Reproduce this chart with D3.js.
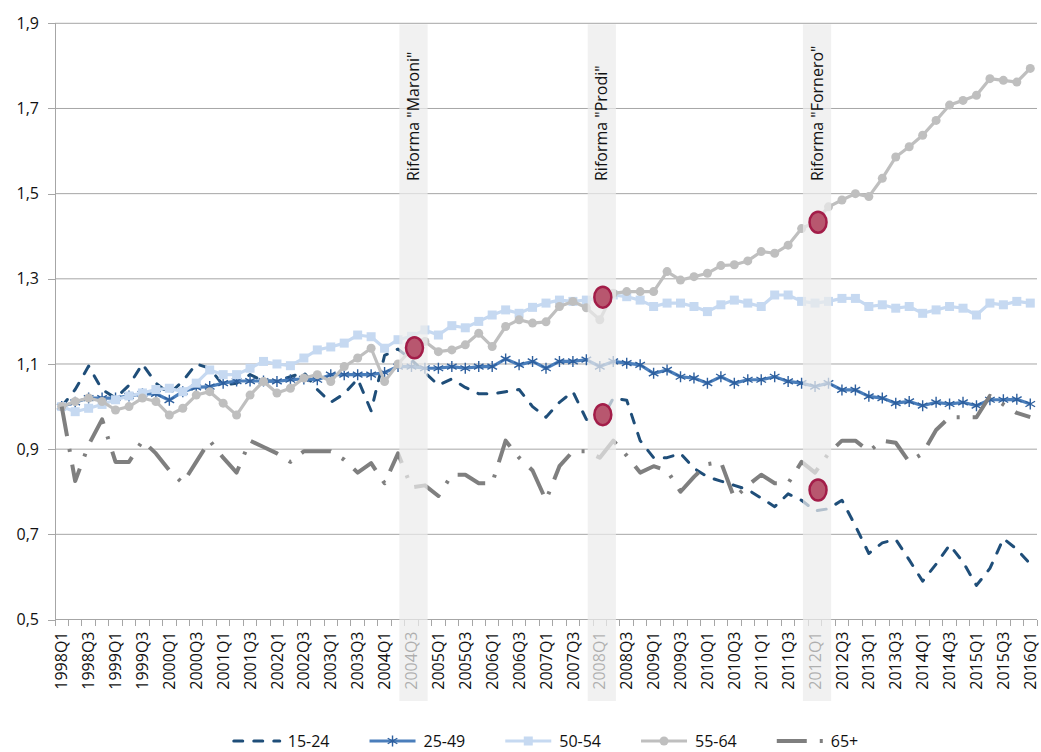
<!DOCTYPE html>
<html>
<head>
  <meta http-equiv="Content-Type" content="text/html; charset=UTF-8">
  <style>
    body { margin: 0; background: #fff; }
    text { font-family: "Open Sans", sans-serif; fill: #111; }
    .grid line { stroke: #a6a6a6; stroke-width: 1; }
    .axis path, .axis line { stroke: #a6a6a6; shape-rendering: crispEdges; }
    .axis text { font-size: 16px; }
    .xlabel { font-size: 15.5px; }
    .legend text { font-size: 16px; }
    .band { fill: #ececec; opacity: 0.72; }
    .reform { font-size: 16px; }
    .hit { fill: #b8576f; stroke: #a31d49; stroke-width: 2.5; }
  </style>
</head>
<body>
  <svg width="1041" height="752"></svg>
  <script src="https://d3js.org/d3.v7.min.js"></script>
  <script>
    // quarters 1998Q1 .. 2016Q1
    var firstYear = 1998, lastYear = 2016, lastQuarter = 1;
    var quarters = [];
    for (var yr = firstYear; yr <= lastYear; yr++)
      for (var q = 1; q <= 4; q++)
        if (yr < lastYear || q <= lastQuarter) quarters.push(yr + "Q" + q);

    var yTicks = [0.5, 0.7, 0.9, 1.1, 1.3, 1.5, 1.7, 1.9];
    var seriesNames = ["15-24", "25-49", "50-54", "55-64", "65+"];

    var v1524 = [1.00, 1.04, 1.095, 1.04, 1.02, 1.05, 1.10, 1.055, 1.03, 1.06, 1.10, 1.09, 1.05,
                 1.055, 1.075, 1.06, 1.06, 1.07, 1.08, 1.04, 1.01, 1.03, 1.065, 0.99, 1.12, 1.135,
                 1.11, 1.08, 1.05, 1.065, 1.045, 1.03, 1.03, 1.035, 1.04, 1.00, 0.975, 1.01, 1.035,
                 0.97, 0.96, 1.02, 1.015, 0.92, 0.88, 0.88, 0.89, 0.855, 0.835, 0.825, 0.815, 0.805,
                 0.785, 0.765, 0.795, 0.78, 0.755, 0.76, 0.78, 0.72, 0.655, 0.68, 0.688, 0.64, 0.59,
                 0.63, 0.675, 0.635, 0.58, 0.62, 0.69, 0.665, 0.63];
    var v2549 = [1.00, 1.01, 1.02, 1.02, 1.02, 1.025, 1.03, 1.03, 1.015, 1.035, 1.045, 1.047, 1.055,
                 1.06, 1.06, 1.06, 1.059, 1.063, 1.065, 1.063, 1.075, 1.075, 1.075, 1.075, 1.08, 1.094,
                 1.094, 1.09, 1.09, 1.094, 1.09, 1.094, 1.094, 1.112, 1.098, 1.106, 1.09, 1.106, 1.106,
                 1.11, 1.094, 1.106, 1.102, 1.098, 1.078, 1.086, 1.07, 1.067, 1.055, 1.07, 1.055, 1.063,
                 1.063, 1.07, 1.059, 1.055, 1.047, 1.055, 1.039, 1.039, 1.024, 1.02, 1.008, 1.012, 1.002,
                 1.01, 1.006, 1.01, 1.002, 1.016, 1.016, 1.017, 1.006];
    var v5054 = [1.00, 0.988, 0.996, 1.005, 1.016, 1.025, 1.032, 1.04, 1.043, 1.035, 1.055, 1.086, 1.075,
                 1.075, 1.09, 1.106, 1.10, 1.096, 1.114, 1.133, 1.14, 1.149, 1.168, 1.164, 1.137, 1.157,
                 1.165, 1.18, 1.168, 1.19, 1.185, 1.20, 1.215, 1.227, 1.219, 1.233, 1.243, 1.25, 1.247,
                 1.25, 1.255, 1.262, 1.258, 1.25, 1.235, 1.243, 1.243, 1.235, 1.223, 1.239, 1.25, 1.243,
                 1.235, 1.262, 1.262, 1.247, 1.243, 1.247, 1.254, 1.254, 1.235, 1.239, 1.231, 1.235, 1.219,
                 1.227, 1.235, 1.231, 1.215, 1.243, 1.239, 1.247, 1.243];
    var v5564 = [1.00, 1.012, 1.02, 1.012, 0.992, 1.00, 1.02, 1.012, 0.98, 0.996, 1.027, 1.035, 1.008,
                 0.98, 1.027, 1.059, 1.032, 1.043, 1.067, 1.075, 1.059, 1.094, 1.114, 1.137, 1.059, 1.10,
                 1.135, 1.153, 1.129, 1.133, 1.145, 1.172, 1.141, 1.188, 1.204, 1.196, 1.199, 1.235, 1.247,
                 1.232, 1.204, 1.266, 1.27, 1.27, 1.27, 1.317, 1.297, 1.305, 1.313, 1.331, 1.333, 1.342,
                 1.364, 1.36, 1.379, 1.418, 1.434, 1.469, 1.485, 1.50, 1.493, 1.536, 1.586, 1.61, 1.637,
                 1.672, 1.708, 1.719, 1.731, 1.77, 1.766, 1.762, 1.794];
    var v65 = [1.00, 0.825, 0.91, 0.97, 0.87, 0.87, 0.92, 0.89, 0.85, 0.82, 0.87, 0.92, 0.88,
               0.845, 0.92, 0.905, 0.89, 0.87, 0.895, 0.895, 0.895, 0.875, 0.845, 0.867, 0.82, 0.89,
               0.81, 0.815, 0.79, 0.84, 0.84, 0.82, 0.82, 0.92, 0.88, 0.85, 0.78, 0.86, 0.895,
               0.895, 0.88, 0.92, 0.885, 0.845, 0.86, 0.85, 0.80, 0.835, 0.865, 0.87, 0.785, 0.815,
               0.84, 0.82, 0.82, 0.87, 0.845, 0.89, 0.92, 0.92, 0.895, 0.92, 0.915, 0.87, 0.89,
               0.945, 0.975, 0.975, 0.975, 1.025, 1.005, 0.985, 0.975];

    var reformQuarters = ["2004Q3", "2008Q1", "2012Q1"];
    var reformLabels = ['Riforma "Maroni"', 'Riforma "Prodi"', 'Riforma "Fornero"'];
    var hitQuarters = ["2004Q3", "2008Q1", "2008Q1", "2012Q1", "2012Q1"];
    var hitValues = [1.138, 1.257, 0.981, 1.433, 0.804];

    var seriesValues = [v1524, v2549, v5054, v5564, v65];
    var styles = [
      {color: "#1f4e79", width: 3, dash: "9,11", cap: "round", marker: null},
      {color: "#4a7ebb", width: 3.2, dash: null, cap: "butt", marker: "star"},
      {color: "#c6d9f1", width: 3.2, dash: null, cap: "butt", marker: "square"},
      {color: "#bfbfbf", width: 3.2, dash: null, cap: "butt", marker: "circle"},
      {color: "#7f7f7f", width: 4, dash: "30,13,3,13", cap: "butt", marker: null}
    ];

    var svg = d3.select("svg"),
        plot = {left: 55, right: 1037, top: 23.3, bottom: 619.5};

    var x = d3.scaleBand().domain(quarters).range([plot.left, plot.right]).paddingInner(0).paddingOuter(0),
        y = d3.scaleLinear().domain([0.5, 1.9]).range([plot.bottom, plot.top]);
    function xc(q) { return x(q) + x.bandwidth() / 2; }

    // gridlines
    svg.append("g").attr("class", "grid")
      .selectAll("line").data(yTicks.slice(1)).enter().append("line")
        .attr("x1", plot.left).attr("x2", plot.right)
        .attr("y1", function(d) { return y(d); })
        .attr("y2", function(d) { return y(d); });

    var yAxis = d3.axisLeft(y).tickValues(yTicks).tickSize(7).tickPadding(9)
        .tickFormat(function(d) { return d3.format(".1f")(d).replace(".", ","); });
    svg.append("g").attr("class", "axis")
        .attr("transform", "translate(" + plot.left + ",0)")
        .call(yAxis)
        .call(function(g) { g.select(".domain").attr("d", "M0," + plot.top + "V" + plot.bottom); });

    // x axis: line, tick marks between categories, labels every other quarter
    var xg = svg.append("g").attr("class", "axis");
    xg.append("line").attr("x1", plot.left).attr("x2", plot.right)
        .attr("y1", plot.bottom).attr("y2", plot.bottom);
    xg.selectAll(".xtick").data(quarters.concat([null])).enter().append("line")
        .attr("class", "xtick")
        .attr("x1", function(d) { return d ? x(d) : plot.right; })
        .attr("x2", function(d) { return d ? x(d) : plot.right; })
        .attr("y1", plot.bottom).attr("y2", plot.bottom + 6);
    xg.selectAll(".xlabel").data(quarters.filter(function(d, i) { return i % 2 === 0; }))
      .enter().append("text")
        .attr("class", "xlabel")
        .attr("text-anchor", "end")
        .attr("dy", "0.35em")
        .attr("transform", function(d) { return "translate(" + xc(d) + "," + (plot.bottom + 12) + ") rotate(-90)"; })
        .text(function(d) { return d; });

    // series
    var line = d3.line()
        .x(function(d, i) { return xc(quarters[i]); })
        .y(function(d) { return y(d); });

    var starPath = "M0,-5.5V5.5M-4.8,-2.75L4.8,2.75M-4.8,2.75L4.8,-2.75";

    seriesValues.forEach(function(vals, k) {
      var st = styles[k];
      var g = svg.append("g").attr("class", "series");
      g.append("path")
          .datum(vals)
          .attr("fill", "none")
          .attr("stroke", st.color)
          .attr("stroke-width", st.width)
          .attr("stroke-linecap", st.cap)
          .attr("stroke-linejoin", "round")
          .attr("stroke-dasharray", st.dash)
          .attr("d", line);
      if (st.marker === "star") {
        g.selectAll("path.mk").data(vals).enter().append("path")
            .attr("class", "mk")
            .attr("d", starPath)
            .attr("stroke", "#2d5f9e").attr("stroke-width", 1.4).attr("fill", "none")
            .attr("transform", function(d, i) { return "translate(" + xc(quarters[i]) + "," + y(d) + ")"; });
      } else if (st.marker === "square") {
        g.selectAll("rect").data(vals).enter().append("rect")
            .attr("x", function(d, i) { return xc(quarters[i]) - 4.5; })
            .attr("y", function(d) { return y(d) - 4.5; })
            .attr("width", 9).attr("height", 9)
            .attr("fill", st.color);
      } else if (st.marker === "circle") {
        g.selectAll("circle").data(vals).enter().append("circle")
            .attr("cx", function(d, i) { return xc(quarters[i]); })
            .attr("cy", function(d) { return y(d); })
            .attr("r", 4.5)
            .attr("fill", st.color);
      }
    });

    // reform bands, drawn over lines and labels
    var bandW = x.bandwidth() * 2.1;
    svg.selectAll(".band").data(reformQuarters).enter().append("rect")
        .attr("class", "band")
        .attr("x", function(d) { return xc(d) + 2 - bandW / 2; })
        .attr("y", plot.top + 1)
        .attr("width", bandW)
        .attr("height", 700 - plot.top);

    svg.selectAll(".reform").data(reformQuarters).enter().append("text")
        .attr("class", "reform")
        .attr("dy", "0.35em")
        .attr("transform", function(d) { return "translate(" + (xc(d) + 2) + ",181) rotate(-90)"; })
        .text(function(d, i) { return reformLabels[i]; });

    svg.selectAll(".hit").data(hitQuarters).enter().append("ellipse")
        .attr("class", "hit")
        .attr("cx", function(d) { return xc(d) + 3; })
        .attr("cy", function(d, i) { return y(hitValues[i]); })
        .attr("rx", 8.5).attr("ry", 10.5);

    // legend
    var legend = svg.append("g").attr("class", "legend");
    var sampleW = 46, legendY = 741, lx = 0;
    var items = legend.selectAll("g").data(seriesNames).enter().append("g");
    items.append("text")
        .attr("x", sampleW + 8).attr("y", legendY).attr("dy", "0.35em")
        .text(function(d) { return d; });
    items.each(function(d, k) {
      var it = d3.select(this), st = styles[k];
      it.append("line")
          .attr("x1", 0).attr("x2", sampleW)
          .attr("y1", legendY).attr("y2", legendY)
          .attr("stroke", st.color).attr("stroke-width", st.width)
          .attr("stroke-linecap", st.cap)
          .attr("stroke-dasharray", st.dash);
      if (st.marker === "star") it.append("path").attr("d", starPath)
          .attr("stroke", "#2d5f9e").attr("stroke-width", 1.4).attr("fill", "none")
          .attr("transform", "translate(" + sampleW / 2 + "," + legendY + ")");
      if (st.marker === "square") it.append("rect").attr("x", sampleW / 2 - 4.5).attr("y", legendY - 4.5)
          .attr("width", 9).attr("height", 9).attr("fill", st.color);
      if (st.marker === "circle") it.append("circle").attr("cx", sampleW / 2).attr("cy", legendY)
          .attr("r", 4.5).attr("fill", st.color);
      var w = sampleW + 8 + it.select("text").node().getComputedTextLength();
      it.attr("data-w", w);
    });
    var total = 0, gapItems = 40;
    items.each(function() { total += +d3.select(this).attr("data-w"); });
    total += gapItems * (seriesNames.length - 1);
    lx = (plot.left + plot.right) / 2 - total / 2;
    items.each(function() {
      var it = d3.select(this);
      it.attr("transform", "translate(" + lx + ",0)");
      lx += +it.attr("data-w") + gapItems;
    });
  </script>
</body>
</html>
